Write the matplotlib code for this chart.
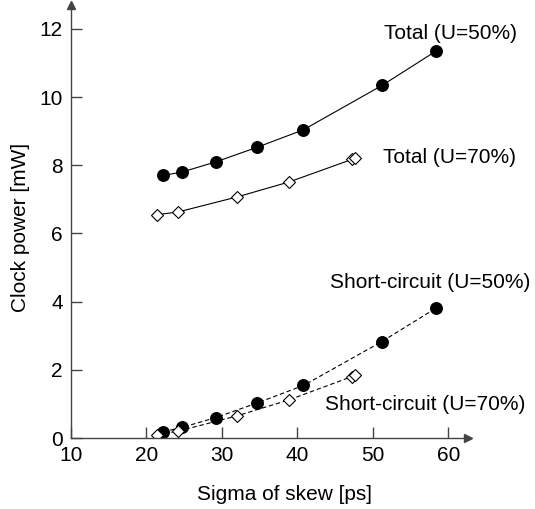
import matplotlib.pyplot as plt

plt.rcParams["font.family"] = ["Liberation Sans", "DejaVu Sans"]

# data
skew_50 = [22.2, 24.7, 29.2, 34.7, 40.8, 51.2, 58.3]
total_50 = [7.70, 7.80, 8.10, 8.53, 9.04, 10.34, 11.34]
short_50 = [0.18, 0.31, 0.60, 1.03, 1.54, 2.83, 3.80]

skew_70 = [21.4, 24.2, 32.0, 38.9, 47.2, 47.6]
total_70 = [6.55, 6.63, 7.07, 7.51, 8.17, 8.21]
short_70 = [0.10, 0.20, 0.65, 1.12, 1.80, 1.84]

x_ticks = [10, 20, 30, 40, 50, 60]
y_ticks = [0, 2, 4, 6, 8, 10, 12]

fig = plt.figure(figsize=(5.35, 5.09), dpi=100)
ax = fig.add_axes([71 / 535, 71 / 509, 397 / 535, 433 / 509])

axis_col = "#444444"
fs = 15

# total power, solid lines
ax.plot(skew_50, total_50, color="black", lw=0.8, marker="o", ms=8.3,
        mfc="black", mec="black")
ax.plot(skew_70, total_70, color="black", lw=0.8, marker="D", ms=6.3,
        mfc="white", mec="black", mew=0.8)

# short-circuit power, dashed lines
ax.plot(skew_50, short_50, color="black", lw=0.8, ls=(0, (4, 2.5)),
        marker="o", ms=8.3, mfc="black", mec="black")
ax.plot(skew_70, short_70, color="black", lw=0.8, ls=(0, (4, 2.5)),
        marker="D", ms=6.3, mfc="white", mec="black", mew=0.8)

ax.text(51.5, 11.85, "Total (U=50%)", fontsize=fs, ha="left", va="center")
ax.text(51.4, 8.24, "Total (U=70%)", fontsize=fs, ha="left", va="center")
ax.text(44.3, 4.56, "Short-circuit (U=50%)", fontsize=fs, ha="left", va="center")
ax.text(43.7, 0.97, "Short-circuit (U=70%)", fontsize=fs, ha="left", va="center")

ax.set_xlim(10, 62.6)
ax.set_ylim(0, 12.7)
ax.set_xticks(x_ticks)
ax.set_yticks(y_ticks)
ax.tick_params(direction="in", length=8, width=1, color=axis_col,
               labelsize=fs, pad=6)

for s in ["top", "right"]:
    ax.spines[s].set_visible(False)
for s in ["left", "bottom"]:
    ax.spines[s].set_color(axis_col)
    ax.spines[s].set_linewidth(1)

# arrow heads on the axes
ax.plot(1, 0, ">", color=axis_col, ms=6, transform=ax.transAxes, clip_on=False)
ax.plot(0, 1, "^", color=axis_col, ms=6, transform=ax.transAxes, clip_on=False)

ax.set_xlabel("Sigma of skew [ps]", fontsize=fs, va="center")
ax.set_ylabel("Clock power [mW]", fontsize=fs, va="center")
ax.xaxis.set_label_coords(0.537, -0.1316)
ax.yaxis.set_label_coords(-0.126, 0.487)

fig.savefig("out.png", dpi=100)
